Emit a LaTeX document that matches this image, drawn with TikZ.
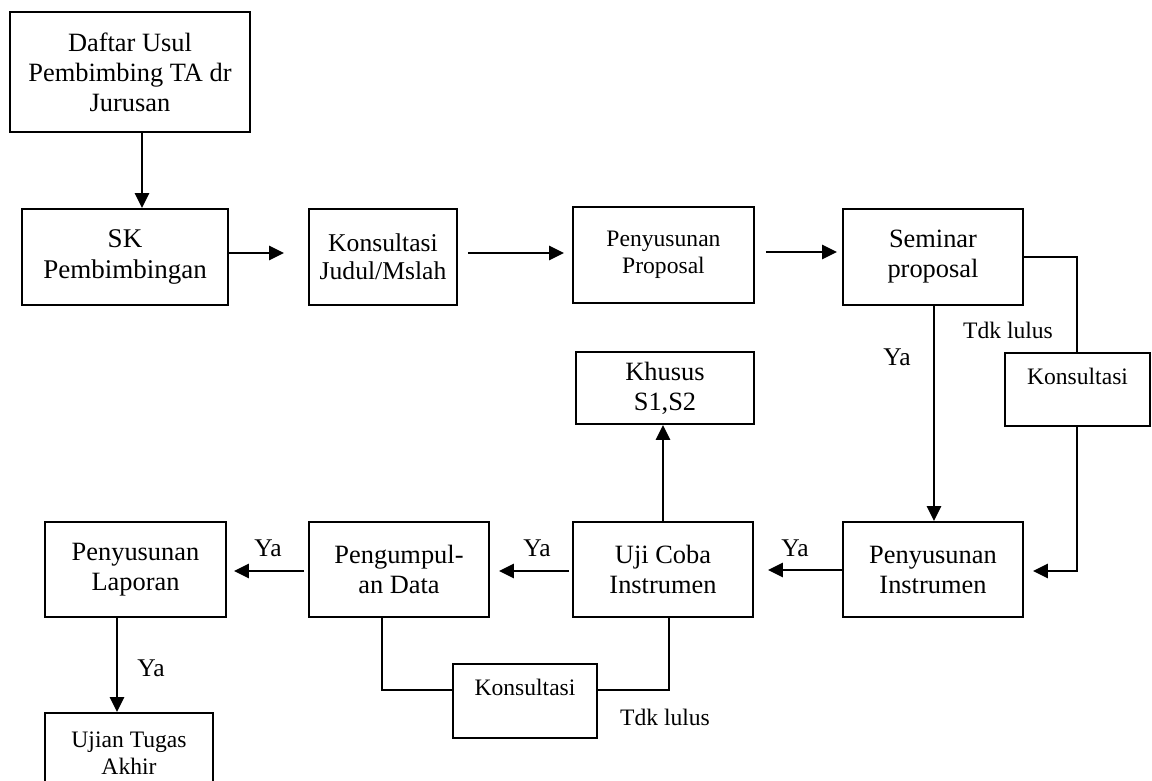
\documentclass[tikz,border=0pt]{standalone}
\usepackage{fontspec}
\setmainfont{Liberation Serif}
\usetikzlibrary{arrows.meta,calc}

\tikzset{
  box/.style={draw, line width=1.8pt, align=center, inner sep=0pt,
              font=\fontsize{26.4}{30}\selectfont},
  smallbox/.style={box, font=\fontsize{23.6}{27}\selectfont},
  arr/.style={line width=2.4pt, -{Triangle[length=15pt,width=14pt]}},
  link/.style={line width=2pt},
  lbl/.style={inner sep=0pt, font=\fontsize{25.5}{28}\selectfont},
  smalllbl/.style={inner sep=0pt, font=\fontsize{23.6}{27}\selectfont}
}

\begin{document}
\begin{tikzpicture}[x=1pt,y=-1pt]
\useasboundingbox (0,0) rectangle (1152,780);

% top row
\node[box, minimum width=240pt, minimum height=120pt] (daftar) at (130,72)
  {Daftar Usul\\Pembimbing TA dr\\Jurusan};
\node[box, font=\fontsize{27}{31}\selectfont, minimum width=206pt, minimum height=96pt] (sk) at (125,257)
  {SK\\Pembimbingan};
\node[box, font=\fontsize{25.6}{28}\selectfont, minimum width=148pt, minimum height=96pt] (judul) at (383,257)
  {Konsultasi\\Judul/Mslah};
\node[smallbox, minimum width=181pt, minimum height=96pt] (prop) at (663.5,255)
  {Penyusunan\\Proposal};
\node[box, minimum width=180pt, minimum height=96pt] (sem) at (933,257)
  {Seminar\\proposal};
\node[smallbox, minimum width=145pt, minimum height=73pt] (kons1) at (1077.5,389.5)
  {Konsultasi\\\mbox{}};

% middle / bottom row
\node[box, minimum width=178pt, minimum height=72pt] (khusus) at (665,388)
  {Khusus\\S1,S2};
\node[box, minimum width=180pt, minimum height=95pt] (instr) at (933,569.5)
  {Penyusunan\\Instrumen};
\node[box, minimum width=180pt, minimum height=95pt] (uji) at (663,569.5)
  {Uji Coba\\Instrumen};
\node[box, minimum width=180pt, minimum height=95pt] (kumpul) at (399,569.5)
  {Pengumpul-\\an Data};
\node[box, minimum width=181pt, minimum height=95pt] (lapor) at (135.5,569.5)
  {Penyusunan\\Laporan};
\node[smallbox, minimum width=144pt, minimum height=74pt] (kons2) at (525,701)
  {Konsultasi\\\mbox{}};
\node[smallbox, minimum width=168pt, minimum height=80pt] (ujian) at (129,753)
  {Ujian Tugas\\Akhir};

% flow along the top
\draw[arr] ([xshift=12pt]daftar.south) -- ([xshift=17pt]sk.north);
\draw[arr] ([yshift=4pt]sk.east) -- ([xshift=-24pt,yshift=4pt]judul.west);
\draw[arr] ([xshift=10pt,yshift=4pt]judul.east) -- ([xshift=-8pt,yshift=2pt]prop.west);
\draw[arr] ([xshift=11pt,yshift=3pt]prop.east) -- ([xshift=-5pt,yshift=5pt]sem.west);

% seminar: pass / fail
\draw[arr] ([xshift=1pt]sem.south) -- ([xshift=1pt]instr.north);
\draw[link] (sem.east) -| ([xshift=-0.5pt]kons1.north);
\draw[arr] ([xshift=-0.5pt]kons1.south) |- ([xshift=9pt,yshift=-1.5pt]instr.east);

% flow along the bottom
\draw[arr] ([yshift=-0.5pt]instr.west) -- ([xshift=14pt,yshift=-0.5pt]uji.east);
\draw[arr] ([xshift=-3pt,yshift=-1.5pt]uji.west) -- ([xshift=9pt,yshift=-1.5pt]kumpul.east);
\draw[arr] ([xshift=-4pt,yshift=-1.5pt]kumpul.west) -- ([xshift=7pt,yshift=-1.5pt]lapor.east);
\draw[arr] ([xshift=-18.5pt]lapor.south) -- ([xshift=-12pt]ujian.north);
\draw[arr] (uji.north) -- ([xshift=-2pt]khusus.south);

% consultation loop under data collection
\draw[link] ([xshift=-17pt]kumpul.south) |- ([yshift=11pt]kons2.west);
\draw[link] ([yshift=11pt]kons2.east) -| ([xshift=6pt]uji.south);

% labels
\node[lbl] (ya1) at (897,357) {Ya};
\node[lbl] (ya2) at (795,548) {Ya};
\node[lbl] (ya3) at (537,548) {Ya};
\node[lbl] (ya4) at (268,548) {Ya};
\node[lbl] (ya5) at (151,668) {Ya};
\node[smalllbl] (tdk1) at (1008,330) {Tdk lulus};
\node[smalllbl] (tdk2) at (665,717) {Tdk lulus};
\end{tikzpicture}
\end{document}
